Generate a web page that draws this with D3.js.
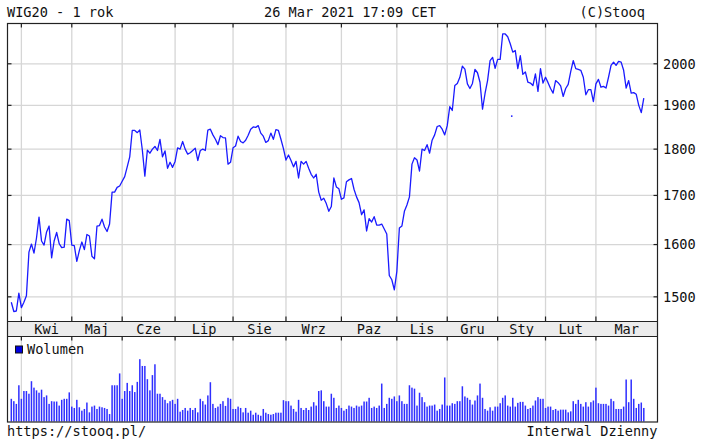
<!DOCTYPE html>
<html>
<head>
<meta charset="utf-8">
<script src="https://cdn.jsdelivr.net/npm/d3@7"></script>
<style>
  body { margin: 0; background: #fff; }
  text { font-family: "DejaVu Sans Mono", monospace; font-size: 13.6px; fill: #111; }
</style>
</head>
<body>
<svg width="708" height="443"></svg>
<script>
// month labels (first entry = partial March 2020, unlabelled)
const monthLabels = ["", "Kwi", "Maj", "Cze", "Lip", "Sie", "Wrz", "Paz", "Lis", "Gru", "Sty", "Lut", "Mar"];

// WIG20 daily closes, one array per month
const closes = [
  [1490, 1473, 1474, 1507],
  [1480, 1490, 1502, 1585, 1601, 1583, 1613, 1655, 1607, 1599, 1625, 1637, 1574, 1607, 1624, 1602, 1594, 1595, 1651, 1648],
  [1599, 1598, 1567, 1588, 1605, 1590, 1620, 1617, 1577, 1572, 1637, 1638, 1651, 1635, 1626, 1641, 1707, 1707, 1717, 1720],
  [1730, 1740, 1761, 1783, 1842, 1842, 1837, 1843, 1798, 1741, 1798, 1791, 1800, 1806, 1797, 1822, 1783, 1796, 1758, 1771, 1760],
  [1773, 1803, 1800, 1817, 1800, 1789, 1792, 1797, 1802, 1775, 1797, 1800, 1797, 1843, 1845, 1832, 1822, 1810, 1830, 1826, 1825, 1767, 1771],
  [1803, 1807, 1829, 1817, 1814, 1820, 1831, 1845, 1850, 1849, 1853, 1836, 1829, 1815, 1819, 1836, 1822, 1844, 1842, 1822, 1801],
  [1776, 1787, 1775, 1761, 1773, 1737, 1773, 1767, 1773, 1758, 1745, 1737, 1745, 1707, 1690, 1694, 1683, 1667, 1677, 1737, 1718, 1714],
  [1692, 1695, 1729, 1733, 1736, 1713, 1697, 1685, 1660, 1670, 1627, 1652, 1645, 1656, 1639, 1639, 1641, 1631, 1621, 1540, 1532, 1513],
  [1548, 1633, 1637, 1667, 1680, 1697, 1767, 1781, 1776, 1752, 1800, 1797, 1810, 1791, 1820, 1832, 1851, 1853, 1845, 1832],
  [1853, 1897, 1888, 1947, 1952, 1967, 1994, 1987, 1951, 1940, 1952, 1986, 1978, 1955, 1891, 1928, 1959, 2008, 2016, 1989],
  [2011, 2011, 2075, 2075, 2068, 2050, 2029, 2033, 1988, 2020, 1974, 1980, 1955, 1953, 1947, 1975, 1933, 1988, 1953],
  [1967, 1954, 1940, 1929, 1959, 1954, 1946, 1921, 1940, 1950, 1981, 2008, 1988, 1986, 1984, 1967, 1925, 1937, 1937, 1909],
  [1951, 1962, 1943, 1945, 1941, 1967, 1996, 2004, 1996, 2006, 2004, 1984, 1941, 1959, 1929, 1930, 1926, 1900, 1883, 1917]
];

// daily volume (relative units), one array per month
const volumes = [
  [67, 60, 52, 107],
  [67, 90, 90, 82, 119, 100, 92, 85, 94, 72, 77, 52, 60, 59, 59, 47, 64, 67, 67, 86],
  [44, 40, 64, 42, 32, 37, 56, 27, 44, 47, 37, 44, 42, 40, 37, 22, 107, 107, 107, 142],
  [67, 90, 114, 90, 107, 87, 117, 184, 164, 164, 125, 92, 137, 169, 82, 82, 72, 64, 54, 60, 64],
  [52, 67, 29, 34, 40, 32, 40, 34, 40, 27, 67, 60, 50, 77, 116, 52, 40, 44, 52, 60, 46, 70, 67],
  [37, 37, 44, 40, 27, 40, 26, 32, 20, 26, 20, 17, 37, 26, 22, 20, 22, 26, 26, 26, 63],
  [60, 60, 47, 37, 29, 64, 40, 34, 40, 34, 44, 57, 47, 90, 92, 60, 44, 44, 82, 70, 40, 47],
  [40, 32, 37, 47, 44, 40, 47, 44, 47, 59, 59, 70, 40, 44, 40, 47, 112, 40, 52, 70, 67, 74],
  [60, 77, 60, 52, 52, 107, 100, 97, 47, 85, 72, 57, 44, 47, 47, 50, 32, 37, 50, 130],
  [47, 47, 54, 52, 60, 60, 104, 74, 70, 64, 50, 62, 77, 112, 70, 37, 32, 42, 32, 44],
  [44, 54, 70, 77, 47, 44, 70, 44, 55, 58, 58, 47, 37, 40, 47, 62, 72, 67, 67],
  [40, 44, 44, 34, 37, 32, 35, 35, 35, 27, 30, 60, 52, 64, 52, 44, 57, 44, 57, 62],
  [100, 54, 52, 52, 52, 47, 67, 60, 37, 37, 37, 44, 124, 57, 124, 67, 40, 52, 56, 40]
];

const priceTicks = [1500, 1600, 1700, 1800, 1900, 2000];
// lone stray point seen in January (day index, value)
const strayPoint = [198.6, 1875];

let svg = d3.select("svg");

var price = closes.flat(),
    vol = volumes.flat();

// first trading day of each month
var starts = [], n = 0;
closes.forEach(function(m) { starts.push(n); n += m.length; });

// panel edges ("top" is taken by window.top, so prefixed names)
var pLeft = 7.5, pRight = 657.5, pTop = 23.5,
    bandTop = 321.5, bandBottom = 336.5, pBottom = 422;

var x = d3.scaleLinear().domain([0, price.length - 1]).range([11.3, 643.8]);
var y = d3.scaleLog().domain([1455, 2102]).range([bandTop, pTop]);
var yv = d3.scaleLinear().domain([0, 251]).range([pBottom - 0.5, bandBottom]);

var grid = "#d6d6d6";
var gridX = starts.slice(1).map(d => x(d));

// main panel grid
svg.append("g").selectAll("line")
    .data(priceTicks)
  .enter().append("line")
    .attr("x1", pLeft).attr("x2", pRight)
    .attr("y1", d => y(d)).attr("y2", d => y(d))
    .attr("stroke", grid).attr("stroke-width", 1.3);

svg.append("g").selectAll("line")
    .data(gridX)
  .enter().append("line")
    .attr("x1", d => d).attr("x2", d => d)
    .attr("y1", pTop).attr("y2", bandTop)
    .attr("stroke", grid).attr("stroke-width", 1.3);

// volume panel grid
svg.append("g").selectAll("line")
    .data(gridX)
  .enter().append("line")
    .attr("x1", d => d).attr("x2", d => d)
    .attr("y1", bandBottom).attr("y2", pBottom)
    .attr("stroke", grid).attr("stroke-width", 1.3);

// month band
svg.append("rect")
    .attr("x", pLeft).attr("y", bandTop)
    .attr("width", pRight - pLeft).attr("height", bandBottom - bandTop)
    .attr("fill", "#ececec");

// price line
var line = d3.line()
    .x((d, i) => x(i))
    .y(d => y(d));

svg.append("path")
    .datum(price)
    .attr("fill", "none")
    .attr("stroke", "#1a1aff")
    .attr("stroke-width", 1.3)
    .attr("stroke-linejoin", "round")
    .attr("d", line);

svg.append("circle")
    .attr("cx", x(strayPoint[0]))
    .attr("cy", y(strayPoint[1]))
    .attr("r", 0.9)
    .attr("fill", "#1a1aff");

// volume bars
svg.append("g").selectAll("rect")
    .data(vol)
  .enter().append("rect")
    .attr("x", (d, i) => x(i) - 0.75)
    .attr("y", d => yv(d))
    .attr("width", 1.5)
    .attr("height", d => yv(0) - yv(d))
    .attr("fill", "#2f2fff");

// frames
var frame = svg.append("g")
    .attr("fill", "none")
    .attr("stroke", "#222")
    .attr("stroke-width", 1.2);

frame.append("rect")
    .attr("x", pLeft).attr("y", pTop)
    .attr("width", pRight - pLeft).attr("height", pBottom - pTop);
frame.append("line")
    .attr("x1", pLeft).attr("x2", pRight)
    .attr("y1", bandTop).attr("y2", bandTop);
frame.append("line")
    .attr("x1", pLeft).attr("x2", pRight)
    .attr("y1", bandBottom).attr("y2", bandBottom);

// tick marks
gridX.forEach(function(gx) {
  [[pTop, pTop + 4], [bandTop - 5, bandTop], [bandBottom, bandBottom + 4]].forEach(function(s) {
    frame.append("line").attr("x1", gx).attr("x2", gx).attr("y1", s[0]).attr("y2", s[1]);
  });
});
priceTicks.forEach(function(v) {
  frame.append("line").attr("x1", pLeft).attr("x2", pLeft + 4).attr("y1", y(v)).attr("y2", y(v));
  frame.append("line").attr("x1", pRight - 4).attr("x2", pRight).attr("y1", y(v)).attr("y2", y(v));
});

// y axis labels
svg.append("g").selectAll("text")
    .data(priceTicks)
  .enter().append("text")
    .attr("x", 663)
    .attr("y", d => y(d))
    .attr("dy", "0.36em")
    .text(d => d);

// month labels
svg.append("g").selectAll("text")
    .data(monthLabels.slice(1))
  .enter().append("text")
    .attr("x", (d, i) => (gridX[i] + (i + 1 < gridX.length ? gridX[i + 1] : pRight)) / 2)
    .attr("y", (bandTop + bandBottom) / 2)
    .attr("dy", "0.36em")
    .attr("text-anchor", "middle")
    .text(d => d);

// legend
svg.append("rect")
    .attr("x", 15.5).attr("y", 346)
    .attr("width", 7).attr("height", 7)
    .attr("fill", "#0000e0")
    .attr("stroke", "#111").attr("stroke-width", 1);
svg.append("text")
    .attr("x", 27).attr("y", 349.5).attr("dy", "0.36em")
    .text("Wolumen");

// header and footer
svg.append("text").attr("x", 7).attr("y", 16.5).text("WIG20 - 1 rok");
svg.append("text").attr("x", 350).attr("y", 16.5).attr("text-anchor", "middle").text("26 Mar 2021 17:09 CET");
svg.append("text").attr("x", 645).attr("y", 16.5).attr("text-anchor", "end").text("(C)Stooq");
svg.append("text").attr("x", 7).attr("y", 436).text("https://stooq.pl/");
svg.append("text").attr("x", 657.5).attr("y", 436).attr("text-anchor", "end").text("Interwal Dzienny");
</script>
</body>
</html>
